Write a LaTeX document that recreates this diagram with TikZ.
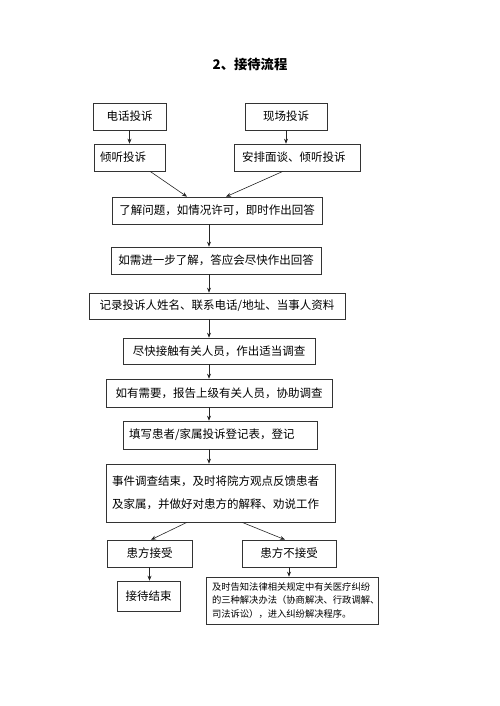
\documentclass[tikz,border=0pt]{standalone}
\usepackage{fontspec}
\newfontfamily\cjk{Noto Sans CJK SC}
\usetikzlibrary{arrows.meta,calc}
\begin{document}
\begin{tikzpicture}[x=1pt,y=-1pt,
  box/.style={draw=black!80, line width=0.6pt, inner sep=0pt,
    font=\cjk\fontsize{11.5}{14}\selectfont, text=black},
  lbox/.style={box, inner xsep=6pt, align=left},
  arr/.style={draw=black!85, line width=0.6pt, -{Stealth[length=5pt,width=4pt]}},
]
\useasboundingbox (0,0) rectangle (500,706);
\coordinate (spine) at (209,0);
\node[font=\cjk\bfseries\fontsize{13.3}{16}\selectfont] (title) at (250,64) {2、接待流程};
\node[box, minimum width=73pt, minimum height=27pt] (a1) at (129.5,116.5) {电话投诉};
\node[box, minimum width=82pt, minimum height=27pt] (b1) at (286,116.5) {现场投诉};
\node[lbox, text width=59pt, minimum height=27pt] (a2) at (129.5,157.5) {倾听投诉};
\node[lbox, inner xsep=8pt, text width=110pt, minimum height=27pt] (b2) at (297,157.5) {安排面谈、倾听投诉};
\node[box, minimum width=210pt, minimum height=27pt] (c) at (217,210.5) {了解问题，如情况许可，即时作出回答};
\node[box, minimum width=210pt, minimum height=27pt] (d) at (216,260.5) {如需进一步了解，答应会尽快作出回答};
\node[box, minimum width=256pt, minimum height=26pt] (e) at (217,306) {记录投诉人姓名、联系电话/地址、当事人资料};
\node[box, minimum width=192pt, minimum height=26pt] (f) at (219,351) {尽快接触有关人员，作出适当调查};
\node[box, minimum width=226pt, minimum height=28pt] (g) at (219,393) {如有需要，报告上级有关人员，协助调查};
\node[lbox, text width=182pt, minimum height=28pt] (h) at (220,435) {填写患者/家属投诉登记表，登记};
\node[lbox, text width=217pt, minimum height=58pt, font=\cjk\fontsize{11.5}{23}\selectfont] (i) at (220.5,493) {事件调查结束，及时将院方观点反馈患者\\及家属，并做好对患方的解释、劝说工作};
\node[box, minimum width=85pt, minimum height=27pt] (j) at (149.5,553.5) {患方接受};
\node[box, minimum width=94pt, minimum height=27pt] (k) at (289,553.5) {患方不接受};
\node[box, minimum width=63pt, minimum height=30pt] (l) at (148.5,596) {接待结束};
\node[lbox, text width=160pt, minimum height=47pt, font=\cjk\fontsize{9.3}{13.5}\selectfont] (m) at (292,600.5) {及时告知法律相关规定中有关医疗纠纷\\的三种解决办法（协商解决、行政调解、\\司法诉讼），进入纠纷解决程序。};
\draw[arr] (a1.south) -- (a1.south |- a2.north);
\draw[arr] (b1.south) -- (b1.south |- b2.north);
\draw[arr] ([xshift=20.5pt]a2.south) -- ([xshift=-30pt]c.north);
\draw[arr] ([xshift=-14pt]b2.south) -- ([xshift=9pt]c.north);
\draw[arr] (c.south -| spine) -- (d.north -| spine);
\draw[arr] (d.south -| spine) -- (e.north -| spine);
\draw[arr] (e.south -| spine) -- (f.north -| spine);
\draw[arr] (f.south -| spine) -- (g.north -| spine);
\draw[arr] (g.south -| spine) -- (h.north -| spine);
\draw[arr] (h.south -| spine) -- (i.north -| spine);
\draw[arr] ([xshift=-33.5pt]i.south) -- ([xshift=1.5pt]j.north);
\draw[arr] ([xshift=21.5pt]i.south) -- ([xshift=-4pt]k.north);
\draw[arr] (j.south) -- (j.south |- l.north);
\draw[arr] (k.south) -- (k.south |- m.north);
\end{tikzpicture}
\end{document}
